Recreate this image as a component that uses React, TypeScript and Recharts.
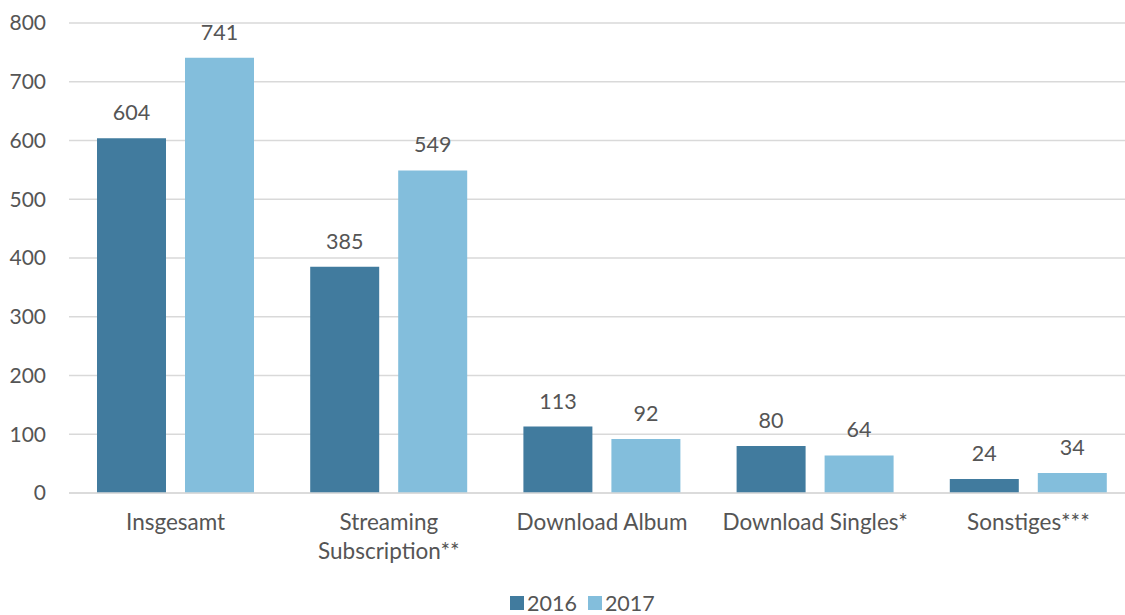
import React from "react";
import { BarChart, Bar, XAxis, YAxis, CartesianGrid, Legend, LabelList } from "recharts";

const categories = ["Insgesamt", "Streaming Subscription**", "Download Album", "Download Singles*", "Sonstiges***"];
const values2016 = [604, 385, 113, 80, 24];
const values2017 = [741, 549, 92, 64, 34];
const tickLabelLines = [["Insgesamt"], ["Streaming", "Subscription**"], ["Download Album"], ["Download Singles*"], ["Sonstiges***"]];
const yTicks = [0, 100, 200, 300, 400, 500, 600, 700, 800];
const seriesNames = ["2016", "2017"];

const COLOR_2016 = "#417B9E";
const COLOR_2017 = "#83BEDC";
const TEXT = "#555555";
const GRID = "#D9D9D9";
const FONT = "Lato, 'Open Sans', sans-serif";

const data = categories.map((c, i) => ({ name: c, v2016: values2016[i], v2017: values2017[i] }));

const XTick = (props: any) => {
  const { x, y, payload } = props;
  const idx = categories.indexOf(payload.value);
  const lines = idx >= 0 ? tickLabelLines[idx] : [String(payload.value)];
  return (
    <g transform={`translate(${x},${y})`}>
      <text textAnchor="middle" fill={TEXT} fontSize={22.5} fontFamily={FONT}>
        {lines.map((l, i) => (
          <tspan key={i} x={0} y={37 + i * 29}>{l}</tspan>
        ))}
      </text>
    </g>
  );
};

const LegendContent = () => {
  const colors = [COLOR_2016, COLOR_2017];
  return (
    <div style={{ display: "flex", alignItems: "center", paddingLeft: 510, height: 20, lineHeight: "20px", fontFamily: FONT, fontSize: 21.5, color: TEXT }}>
      {seriesNames.map((n, i) => (
        <div key={n} style={{ display: "flex", alignItems: "center", marginRight: 11 }}>
          <span style={{ display: "inline-block", width: 14, height: 14, background: colors[i], marginRight: 3 }} />
          <span>{n}</span>
        </div>
      ))}
    </div>
  );
};

export default function App() {
  return (
    <div style={{ position: "absolute", left: 0, top: 0, width: 1125, height: 615, overflow: "hidden", background: "#fff" }}>
      <BarChart
        width={1145}
        height={615}
        data={data}
        margin={{ top: 23, right: 10, left: 0, bottom: 2 }}
        barCategoryGap={28}
        barGap={19}
      >
        <CartesianGrid vertical={false} stroke={GRID} strokeWidth={1.5} />
        <XAxis
          dataKey="name"
          axisLine={{ stroke: GRID, strokeWidth: 1.5 }}
          tickLine={false}
          tickSize={0}
          tickMargin={0}
          height={100}
          interval={0}
          tick={<XTick />}
        />
        <YAxis
          domain={[0, 800]}
          ticks={yTicks}
          axisLine={false}
          tickLine={false}
          tickSize={0}
          tickMargin={23}
          width={69}
          tick={{ fill: TEXT, fontSize: 21, fontFamily: FONT }}
        />
        <Legend verticalAlign="bottom" height={20} content={<LegendContent />} />
        <Bar dataKey="v2016" name="2016" fill={COLOR_2016} isAnimationActive={false}>
          <LabelList dataKey="v2016" position="top" offset={18} fill={TEXT} fontSize={21.5} fontFamily={FONT} />
        </Bar>
        <Bar dataKey="v2017" name="2017" fill={COLOR_2017} isAnimationActive={false}>
          <LabelList dataKey="v2017" position="top" offset={18} fill={TEXT} fontSize={21.5} fontFamily={FONT} />
        </Bar>
      </BarChart>
    </div>
  );
}
